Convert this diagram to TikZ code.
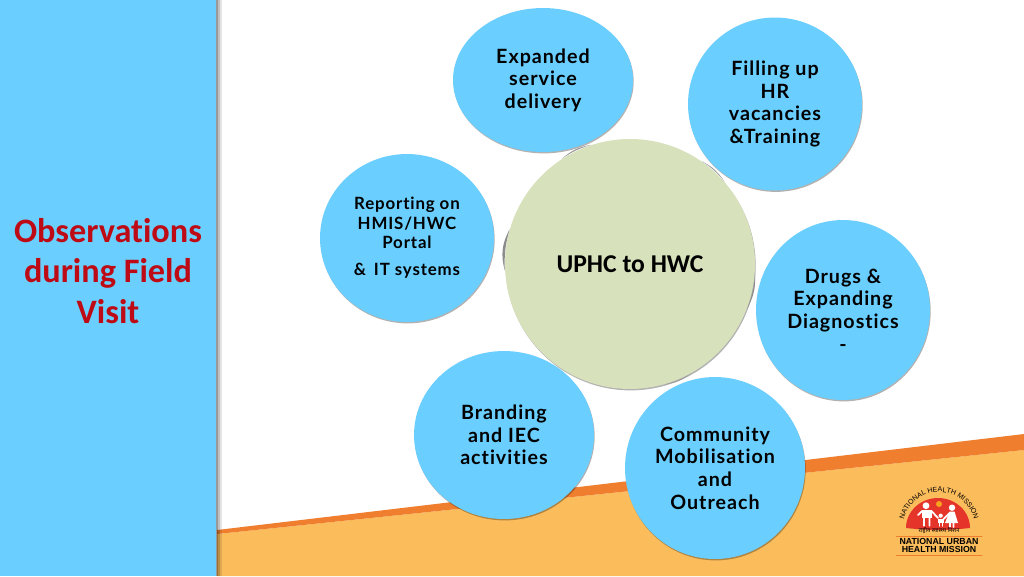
\documentclass[tikz,border=0pt]{standalone}
\usepackage{fontspec}
\setmainfont[Ligatures=NoCommon]{Carlito}
\newfontfamily\gillfont[Ligatures=NoCommon,LetterSpace=5]{Lato}
\newfontfamily\hindifont[Script=Devanagari]{Noto Sans}
\newfontfamily\logofont{Liberation Sans}
\usetikzlibrary{shapes.geometric,shadows,decorations.text}
\definecolor{skyblue}{HTML}{6ACFFF}
\definecolor{hubgreen}{HTML}{D7E1BB}
\definecolor{bandorange}{HTML}{EF7F2E}
\definecolor{lightorange}{HTML}{FBBC5C}
\definecolor{titlered}{HTML}{BE0A14}
\definecolor{logored}{HTML}{E5352B}
\definecolor{sunorange}{HTML}{F6A21E}
\tikzset{
	softshadow/.style={drop shadow={shadow xshift=.4pt,shadow yshift=-.8pt,opacity=.3,fill=black}},
	bubble/.style={ellipse,fill=skyblue,inner sep=0pt,align=center,text=black,softshadow,
		font=\gillfont\fontsize{11.2pt}{12.9pt}\selectfont\bfseries},
	smallbubble/.style={bubble,font=\gillfont\fontsize{9.6pt}{11pt}\selectfont\bfseries},
	person/.style={fill=white,draw=none},
	limb/.style={draw=white,line width=1pt},
	logotext/.style={font=\logofont\fontsize{5pt}{6pt}\selectfont\bfseries,inner sep=0pt}
}
\begin{document}
\begin{tikzpicture}[x=.02cm,y=-.02cm,line join=round,line cap=round]
	\useasboundingbox (0,0) rectangle (1024,576);
	\fill[white] (0,0) rectangle (1024,576);
	% background
	\fill[lightorange] (217,534)--(1024,450)--(1024,576)--(217,576)--cycle;
	\fill[bandorange] (217,530)--(1024,434)--(1024,450)--(217,534)--cycle;
	\foreach \x/\o in {216/.4,218/.25,220/.1}
		\fill[black,opacity=\o] (\x,0) rectangle (\x+2,576);
	\fill[skyblue] (0,0) rectangle (216,576);
	\node (title) at (108,271) [align=center,text=titlered,font=\fontsize{19.5pt}{23.2pt}\selectfont\bfseries]{Observations\\during Field\\Visit};
	% bubbles
	\node[bubble,minimum width=3.6cm,minimum height=2.88cm] (service) at (543,80) {Expanded\\service\\delivery};
	\node[bubble,minimum width=3.48cm,minimum height=3.46cm] (staff) at (775,104) {Filling up\\HR\\vacancies\\\&Training};
	\node[smallbubble,minimum width=3.48cm,minimum height=3.36cm] (report) at (407,238) {Reporting on\\HMIS/HWC\\Portal\\[4.4pt]\&\, IT systems};
	\node[bubble,minimum width=3.48cm,minimum height=3.6cm] (drugs) at (843,310) {Drugs \&\\Expanding\\Diagnostics\\-};
	\node[bubble,minimum width=3.6cm,minimum height=3.64cm] (outreach) at (715,468) {Community\\Mobilisation\\and\\Outreach};
	\node[bubble,minimum width=3.6cm,minimum height=3.36cm] (brand) at (504,435) {Branding\\and IEC\\activities};
	\node[circle,fill=hubgreen,inner sep=0pt,minimum size=5cm,softshadow,font=\fontsize{14.6pt}{16pt}\selectfont\bfseries] (hub) at (630,264) {UPHC to HWC};
	% small gray links on the rim of the hub
	\foreach \a/\b/\t/\g in {123/108/16/40,55/41.5/15/40,-4/-21/16/45,-61/-74/15/40,241/233/11/25,183/164/22/45}
		\fill[black!\g] (hub.\a) to[bend left=\t] (hub.\b) to[bend right=9] (hub.\a);
	% logo
	\fill[logored] (906,528) arc[start angle=180,end angle=360,x radius=32,y radius=30] to[bend left=6] cycle;
	\fill[sunorange] (939,504) circle (3);
	\path[decorate,decoration={text along path,text align=center,
		text={|\logofont\fontsize{4pt}{5pt}\selectfont|NATIONAL HEALTH MISSION}}]
		(903,528) arc[start angle=180,end angle=360,radius=36];
	% man
	\fill[person] (926,505.7) circle (3.4);
	\fill[person] (922,510) rectangle (931.5,518);
	\draw[limb] (924,518)--(924,525.7) (929.5,518)--(929.5,525.7) (922,511)--(918,515) (931.5,511)--(938,518);
	% woman
	\fill[person] (952,507.7) circle (3.2);
	\fill[person] (949.5,511.5)--(954.5,511.5)--(958,523)--(945,523)--cycle;
	\draw[limb] (950,523)--(950,527) (953.5,523)--(953.5,527) (949.5,513)--(943.5,519);
	% child
	\fill[person] (940.7,515.7) circle (2.1);
	\fill[person] (938,518.5) rectangle (943.5,523);
	\draw[limb,line width=.7pt] (939.3,523)--(939.3,526) (942.2,523)--(942.2,526);
	\node[inner sep=0pt,font=\hindifont\fontsize{3.2pt}{4pt}\selectfont] (hindi) at (939,531) {राष्ट्रीय स्वास्थ्य मिशन};
	\node[logotext] (urban) at (939,541.5) {NATIONAL URBAN};
	\node[logotext] (mission) at (939,549) {HEALTH MISSION};
	\draw[bandorange,line width=.3pt] (896,536.5)--(982,536.5) (896,555)--(982,555);
\end{tikzpicture}
\end{document}
